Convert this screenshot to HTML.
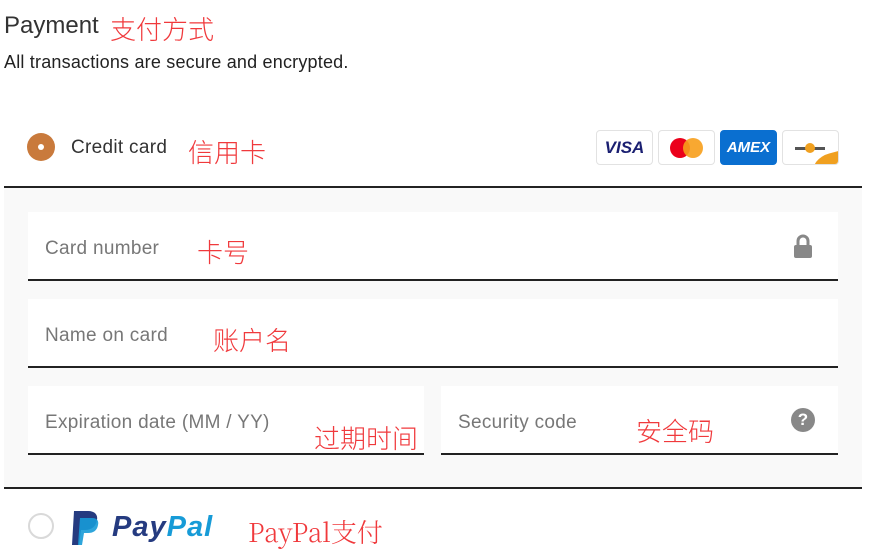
<!DOCTYPE html>
<html><head><meta charset="utf-8"><style>
*{margin:0;padding:0;box-sizing:border-box}
body{width:882px;height:557px;background:#fff;position:relative;overflow:hidden;font-family:"Liberation Sans","Noto Sans CJK SC",sans-serif;color:#222}
.a{position:absolute;white-space:nowrap}
.r{color:#f0393c;font-family:"Noto Sans CJK SC",sans-serif;font-weight:300}
.f{position:absolute;background:#fff;border-bottom:2px solid #222}
.ph{position:absolute;color:#777;font-size:19px;letter-spacing:.3px}
.logo{position:absolute;top:130px;width:57px;height:35px;border:1px solid #e2e2e2;border-radius:4px;background:#fff}
</style></head><body>
<div class="a" style="left:4px;top:12px;font-size:24px;color:#333">Payment</div>
<div class="a r" style="left:110px;top:10px;font-size:26px">支付方式</div>
<div class="a" style="left:4px;top:52px;font-size:18px;color:#222;letter-spacing:.2px">All transactions are secure and encrypted.</div>

<div class="a" style="left:27px;top:133px;width:28px;height:28px;border-radius:50%;background:#c97a3c"></div>
<div class="a" style="left:38px;top:144px;width:6px;height:6px;border-radius:50%;background:#fff"></div>
<div class="a" style="left:71px;top:137px;font-size:19px;color:#333;letter-spacing:.3px">Credit card</div>
<div class="a r" style="left:188px;top:133px;font-size:26px">信用卡</div>

<div class="logo" style="left:596px"><div class="a" style="left:0;width:55px;top:7px;text-align:center;font:italic bold 17px 'Liberation Sans';color:#1a1f71">VISA</div></div>
<div class="logo" style="left:658px"><div class="a" style="left:11px;top:7px;width:20px;height:20px;border-radius:50%;background:#eb001b"></div><div class="a" style="left:24px;top:7px;width:20px;height:20px;border-radius:50%;background:#f79e1b;opacity:.9"></div></div>
<div class="logo" style="left:720px;background:#0a6fd0;border-color:#0a6fd0"><div class="a" style="left:0;width:55px;top:8px;text-align:center;font:italic bold 15px 'Liberation Sans';color:#fff">AMEX</div></div>
<div class="logo" style="left:782px;overflow:hidden"><div class="a" style="left:12px;top:16px;width:30px;height:3px;background:#555"></div><div class="a" style="left:22px;top:12px;width:10px;height:10px;border-radius:50%;background:#f0a020"></div><div class="a" style="left:30px;top:22px;width:40px;height:30px;background:#f0a020;border-radius:50% 0 0 0;transform:rotate(-15deg)"></div></div>

<div class="a" style="left:4px;top:186px;width:858px;height:2px;background:#222"></div>
<div class="a" style="left:4px;top:188px;width:858px;height:300px;background:#f9f9f9"></div>
<div class="a" style="left:4px;top:487px;width:858px;height:2px;background:#222"></div>

<div class="f" style="left:28px;top:212px;width:810px;height:69px"></div>
<div class="ph" style="left:45px;top:238px">Card number</div>
<div class="a r" style="left:197px;top:233px;font-size:26px">卡号</div>
<svg class="a" style="left:792px;top:234px" width="22" height="24"><path d="M6 11V7a5 5 0 0 1 10 0v4" stroke="#888" stroke-width="3" fill="none"/><rect x="2" y="11" width="18" height="13" rx="2" fill="#888"/></svg>

<div class="f" style="left:28px;top:299px;width:810px;height:69px"></div>
<div class="ph" style="left:45px;top:325px">Name on card</div>
<div class="a r" style="left:213px;top:321px;font-size:26px">账户名</div>

<div class="f" style="left:28px;top:386px;width:396px;height:69px"></div>
<div class="ph" style="left:45px;top:412px">Expiration date (MM / YY)</div>
<div class="a r" style="left:314px;top:419px;font-size:26px">过期时间</div>
<div class="f" style="left:441px;top:386px;width:397px;height:69px"></div>
<div class="ph" style="left:458px;top:412px">Security code</div>
<div class="a r" style="left:636px;top:412px;font-size:26px">安全码</div>
<div class="a" style="left:791px;top:408px;width:24px;height:24px;border-radius:50%;background:#888;color:#fff;font:bold 17px 'Liberation Sans';text-align:center;line-height:24px">?</div>

<div class="a" style="left:28px;top:513px;width:26px;height:26px;border-radius:50%;border:2px solid #d9d9d9"></div>
<svg class="a" style="left:70px;top:510px" width="32" height="36"><path d="M4 1h14c7 0 10 4 9 9-1 7-6 10-12 10h-4l-2 15H2z" fill="#253b80"/><path d="M10 8h12c5 0 7 3 6 7-1 6-5 8-10 8h-4l-2 12H8z" fill="#179bd7" opacity=".9"/></svg>
<div class="a" style="left:112px;top:511px;font:italic bold 29px 'Liberation Sans';color:#253b80;letter-spacing:1px">Pay<span style="color:#179bd7">Pal</span></div>
<div class="a r" style="left:248px;top:513px;font-size:26px;font-family:'Noto Serif CJK SC',serif">PayPal支付</div>
</body></html>
